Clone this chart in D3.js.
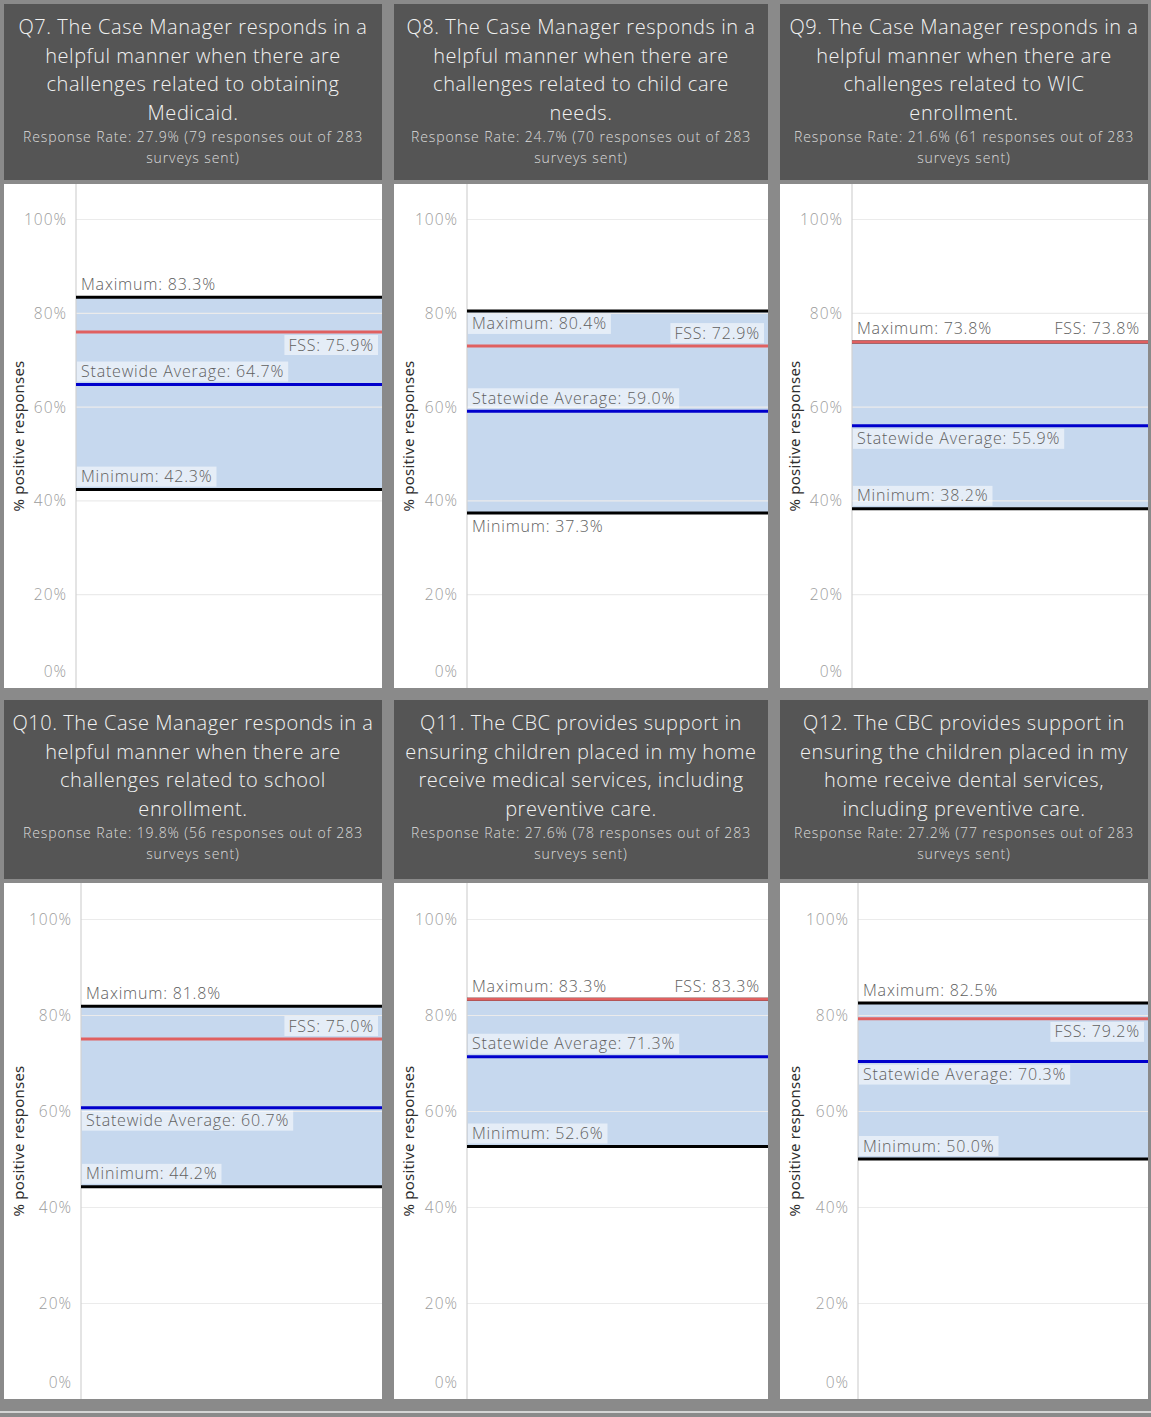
<!DOCTYPE html>
<html>
<head>
<meta charset="utf-8">
<script src="https://cdn.jsdelivr.net/npm/d3@7"></script>
<style>
  html, body { margin: 0; padding: 0; background: #8a8a8a; }
  svg { display: block; }
</style>
</head>
<body>
<svg id="chart" width="1151" height="1417"></svg>
<script>
// ---------------- data ----------------
const questions = ["Q7", "Q8", "Q9", "Q10", "Q11", "Q12"];
const titleLines = [
  ["Q7. The Case Manager responds in a", "helpful manner when there are", "challenges related to obtaining", "Medicaid."],
  ["Q8. The Case Manager responds in a", "helpful manner when there are", "challenges related to child care", "needs."],
  ["Q9. The Case Manager responds in a", "helpful manner when there are", "challenges related to WIC", "enrollment."],
  ["Q10. The Case Manager responds in a", "helpful manner when there are", "challenges related to school", "enrollment."],
  ["Q11. The CBC provides support in", "ensuring children placed in my home", "receive medical services, including", "preventive care."],
  ["Q12. The CBC provides support in", "ensuring the children placed in my", "home receive dental services,", "including preventive care."]
];
const responseRates = [27.9, 24.7, 21.6, 19.8, 27.6, 27.2];
const responseCounts = [79, 70, 61, 56, 78, 77];
const surveysSent = [283, 283, 283, 283, 283, 283];
const maximumValues = [83.3, 80.4, 73.8, 81.8, 83.3, 82.5];
const minimumValues = [42.3, 37.3, 38.2, 44.2, 52.6, 50.0];
const fssValues = [75.9, 72.9, 73.8, 75.0, 83.3, 79.2];
const statewideValues = [64.7, 59.0, 55.9, 60.7, 71.3, 70.3];
const yTickValues = [0, 20, 40, 60, 80, 100];
const yAxisTitle = "% positive responses";

// ---------------- layout (not data) ----------------
const cols = [[4, 382], [394, 768], [780, 1148]];
const rows = [
  { h: [4, 180], p: [184, 688], top: 219 },
  { h: [700, 879], p: [883, 1399], top: 919 }
];
const axisOffsets = [72, 73, 72, 77, 73, 78];
const maxPlace = ["above", "below", "above", "above", "above", "above"];
const fssPlace = ["below", "above", "above", "above", "above", "below"];
const avgPlace = ["above", "above", "below", "below", "above", "below"];
const minPlace = ["above", "below", "above", "above", "above", "above"];

const FONT = "'Open Sans', 'Noto Sans', sans-serif";
const svg = d3.select("#chart");

svg.append("rect").attr("x", 0).attr("y", 0).attr("width", 1151).attr("height", 1417).attr("fill", "#8a8a8a");
svg.append("rect").attr("x", 0).attr("y", 1411).attr("width", 1151).attr("height", 2).attr("fill", "#d4d4d4");

questions.forEach((q, i) => {
  const col = cols[i % 3];
  const row = rows[Math.floor(i / 3)];
  const g = svg.append("g");

  // header
  g.append("rect")
    .attr("x", col[0]).attr("y", row.h[0])
    .attr("width", col[1] - col[0]).attr("height", row.h[1] - row.h[0])
    .attr("fill", "#555555");
  const cx = (col[0] + col[1]) / 2;
  titleLines[i].forEach((line, k) => {
    g.append("text")
      .attr("x", cx).attr("y", row.h[0] + 30 + k * 28.6)
      .attr("text-anchor", "middle")
      .attr("font-family", FONT).attr("font-size", 20).attr("font-weight", 300)
      .attr("letter-spacing", 0.55)
      .attr("fill", "#f2f2f2")
      .text(line);
  });
  const sub1 = `Response Rate: ${responseRates[i].toFixed(1)}% (${responseCounts[i]} responses out of ${surveysSent[i]}`;
  const sub2 = "surveys sent)";
  [sub1, sub2].forEach((line, k) => {
    g.append("text")
      .attr("x", cx).attr("y", row.h[0] + 138 + k * 21)
      .attr("text-anchor", "middle")
      .attr("font-family", FONT).attr("font-size", 14).attr("font-weight", 300)
      .attr("letter-spacing", 0.9)
      .attr("fill", "#dcdcdc")
      .text(line);
  });

  // plot area
  g.append("rect")
    .attr("x", col[0]).attr("y", row.p[0])
    .attr("width", col[1] - col[0]).attr("height", row.p[1] - row.p[0])
    .attr("fill", "#ffffff");

  const axisX = col[0] + axisOffsets[i];
  const right = col[1];
  const y = d3.scaleLinear().domain([0, 100]).range([row.p[1], row.top]);
  const x = d3.scaleLinear().domain([0, 1]).range([axisX, right]);

  // band min..max
  g.append("rect")
    .attr("x", x(0)).attr("y", y(maximumValues[i]))
    .attr("width", x(1) - x(0))
    .attr("height", y(minimumValues[i]) - y(maximumValues[i]))
    .attr("fill", "#c6d8ee");

  // gridlines
  const grid = g.append("g")
    .attr("transform", `translate(${axisX},0)`)
    .call(d3.axisLeft(y).tickValues(yTickValues.filter(d => d > 0)).tickSize(-(right - axisX)).tickFormat(""));
  grid.select(".domain").remove();
  grid.selectAll(".tick line").attr("stroke", "#ebebeb").attr("stroke-width", 1.2);

  // y axis labels
  const ax = g.append("g")
    .attr("transform", `translate(${axisX - 9},0)`)
    .call(d3.axisLeft(y).tickValues(yTickValues).tickSize(0).tickPadding(0).tickFormat(d => d + "%"));
  ax.select(".domain").remove();
  ax.selectAll(".tick text")
    .attr("font-family", FONT).attr("font-size", 15.5).attr("font-weight", 300)
    .attr("letter-spacing", 1)
    .attr("fill", "#9c9c9c")
    .attr("dy", d => d === 0 ? "-0.75em" : "0.35em");

  // axis line
  g.append("line")
    .attr("x1", axisX).attr("x2", axisX)
    .attr("y1", row.p[0]).attr("y2", row.p[1])
    .attr("stroke", "#d2d2d2").attr("stroke-width", 1.2);

  // axis title
  g.append("text")
    .attr("transform", `translate(${col[0] + 16},${(row.p[0] + row.p[1]) / 2}) rotate(-90)`)
    .attr("text-anchor", "middle").attr("dominant-baseline", "middle")
    .attr("font-family", "'Noto Sans', sans-serif").attr("font-size", 15)
    .attr("letter-spacing", 0.2)
    .attr("fill", "#2e2e2e")
    .text(yAxisTitle);

  // reference lines
  const refs = [
    { v: minimumValues[i], color: "#000000", label: "Minimum", place: minPlace[i], align: "left" },
    { v: maximumValues[i], color: "#000000", label: "Maximum", place: maxPlace[i], align: "left" },
    { v: statewideValues[i], color: "#0000cc", label: "Statewide Average", place: avgPlace[i], align: "left" },
    { v: fssValues[i], color: "#e06060", label: "FSS", place: fssPlace[i], align: "right" }
  ];
  refs.forEach(r => {
    g.append("line")
      .attr("x1", x(0)).attr("x2", x(1))
      .attr("y1", y(r.v)).attr("y2", y(r.v))
      .attr("stroke", r.color).attr("stroke-width", 3);
  });
  refs.forEach(r => {
    const ly = y(r.v);
    const boxH = 20;
    const boxTop = r.place === "above" ? ly - 3 - boxH : ly + 3;
    const lg = g.append("g");
    const bg = lg.append("rect").attr("fill", "#ffffff").attr("fill-opacity", 0.55);
    const t = lg.append("text")
      .attr("y", boxTop + 15.5)
      .attr("font-family", FONT).attr("font-size", 16).attr("font-weight", 300)
      .attr("letter-spacing", 0.8)
      .attr("fill", "#606060")
      .text(`${r.label}: ${r.v.toFixed(1)}%`);
    const w = t.node().getComputedTextLength();
    let bx;
    if (r.align === "left") {
      bx = x(0) + 1;
      t.attr("x", bx + 4);
    } else {
      bx = x(1) - 4 - (w + 8);
      t.attr("x", bx + 4);
    }
    bg.attr("x", bx).attr("y", boxTop).attr("width", w + 8).attr("height", boxH);
  });
});
</script>
</body>
</html>
